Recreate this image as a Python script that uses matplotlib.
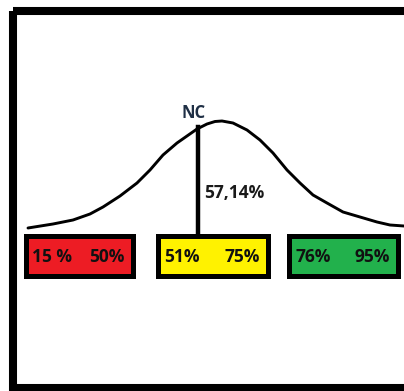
import matplotlib
matplotlib.use("Agg")
import matplotlib.pyplot as plt
from matplotlib.patches import Rectangle

# bell curve as drawn (pixel space, y grows downward)
curve_x = [28, 53, 73, 90, 103, 120, 137, 150, 163, 177, 187, 197, 207,
           215, 222, 233, 247, 260, 273, 287, 300, 313, 327, 343, 360, 377,
           390, 404]
curve_y = [228, 224, 220, 214, 207, 196, 183, 170, 155, 143, 136, 129, 124,
           121.5, 121, 123, 130, 140, 153, 170, 183, 195, 203, 212, 217, 222,
           225, 226]

nc_x = 198
nc_label = "NC"
nc_value = "57,14%"

band_lo = ["15 %", "51%", "76%"]
band_hi = ["50%", "75%", "95%"]
band_colors = ["#ED1C24", "#FFF200", "#22B14C"]
band_x0 = [26, 158, 289]
band_x1 = [133, 268, 398]

W, H = 404, 391
fig = plt.figure(figsize=(W / 100, H / 100), dpi=100)
ax = fig.add_axes([0, 0, 1, 1])
ax.set_xlim(0, W)
ax.set_ylim(H, 0)
ax.axis("off")

# outer frame
ax.add_patch(Rectangle((13, 11), 420, 377, fill=False, lw=5.8, ec="black"))

ax.plot(curve_x, curve_y, color="black", lw=2.1, solid_capstyle="round",
        solid_joinstyle="round")
ax.plot([nc_x, nc_x], [127, 235], color="black", lw=3.2)

font = dict(family=["Open Sans", "DejaVu Sans"], fontweight="bold")
ax.text(194, 113, nc_label, ha="center", va="center", fontsize=12,
        color="#1f2f45", **font)
ax.text(234, 193, nc_value, ha="center", va="center", fontsize=12.5,
        color="#1a1a1a", **font)

for lo, hi, c, x0, x1 in zip(band_lo, band_hi, band_colors, band_x0, band_x1):
    ax.add_patch(Rectangle((x0, 236), x1 - x0, 40, fc=c, ec="black", lw=3.6))
    ax.text(x0 + 6, 257, lo, ha="left", va="center", fontsize=12.5,
            color="#111111", **font)
    ax.text(x1 - 8, 257, hi, ha="right", va="center", fontsize=12.5,
            color="#111111", **font)

fig.savefig("out.png", dpi=100)
